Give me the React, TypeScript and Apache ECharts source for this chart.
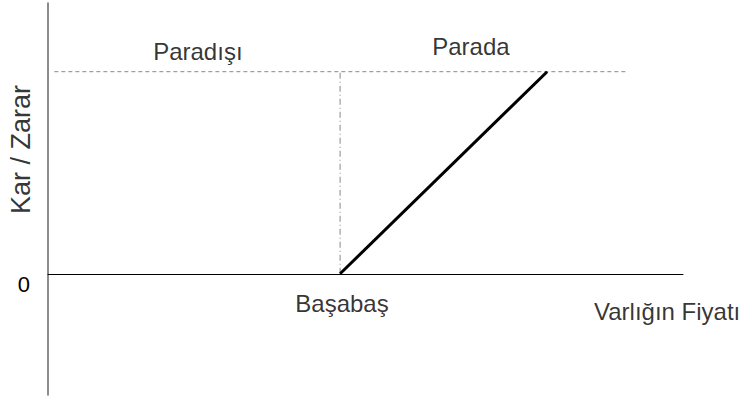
import React, { useEffect, useRef } from "react";
import * as echarts from "echarts";

// Payoff (call option style) values
const payoffX = [46, 78.6];
const payoffY = [0, 100];
const strikeLineY = [0, 100];
const topLineX = [1, 91.4];
const topLevel = 100;

// Text annotations: [x, y, text]
const annotations: [number, number, string][] = [
  [23.6, 110, "Paradışı"],
  [66.6, 112.5, "Parada"],
  [46.3, -14.5, "Başabaş"],
  [97.5, -18.8, "Varlığın Fiyatı"],
  [-4.2, 61.5, "Kar / Zarar"],
];

const FONT = "'Liberation Sans', Arial, sans-serif";

export default function App() {
  const ref = useRef<HTMLDivElement>(null);
  useEffect(() => {
    if (!ref.current) return;
    const chart = echarts.init(ref.current, undefined, { renderer: "svg" });
    chart.setOption({
      animation: false,
      backgroundColor: "#ffffff",
      grid: { left: 48, right: 61, top: 3, bottom: 1, containLabel: false },
      xAxis: {
        type: "value",
        min: 0,
        max: 100,
        axisLine: { show: true, onZero: true, lineStyle: { color: "#000", width: 1 } },
        axisTick: { show: false },
        axisLabel: { show: false },
        splitLine: { show: false },
      },
      yAxis: {
        type: "value",
        min: -60,
        max: 134,
        interval: 10,
        axisLine: { show: true, onZero: false, lineStyle: { color: "#666", width: 1.5 } },
        axisTick: { show: false },
        splitLine: { show: false },
        axisLabel: {
          show: true,
          formatter: (v: number) => (v === 0 ? "0" : ""),
          fontFamily: FONT,
          fontSize: 22,
          color: "#000",
          margin: 18,
          verticalAlign: "top",
          padding: [0, 0, 0, 0],
        },
      },
      series: [
        {
          type: "line",
          data: topLineX.map((x) => [x, topLevel]),
          symbol: "none",
          lineStyle: { color: "#888", width: 1, type: [4, 3] },
          z: 1,
        },
        {
          type: "line",
          data: strikeLineY.map((y) => [payoffX[0], y]),
          symbol: "none",
          lineStyle: { color: "#888", width: 1, type: [6, 3, 1, 3] },
          z: 1,
        },
        {
          type: "line",
          data: payoffX.map((x, i) => [x, payoffY[i]]),
          symbol: "none",
          lineStyle: { color: "#000", width: 3 },
          z: 3,
        },
        {
          type: "scatter",
          symbolSize: 0,
          clip: false,
          silent: true,
          data: annotations.map(([x, y, t]) => ({
            value: [x, y],
            label: {
              show: true,
              position: "inside",
              formatter: t,
              rotate: t === "Kar / Zarar" ? 90 : 0,
              fontFamily: FONT,
              fontSize: t === "Kar / Zarar" ? 27 : 24,
              color: "#000",
            },
          })),
          z: 5,
        },
      ],
    });
    return () => chart.dispose();
  }, []);
  return (
    <div
      ref={ref}
      style={{ position: "fixed", left: 0, top: 0, width: 744, height: 396, background: "#fff" }}
    />
  );
}
